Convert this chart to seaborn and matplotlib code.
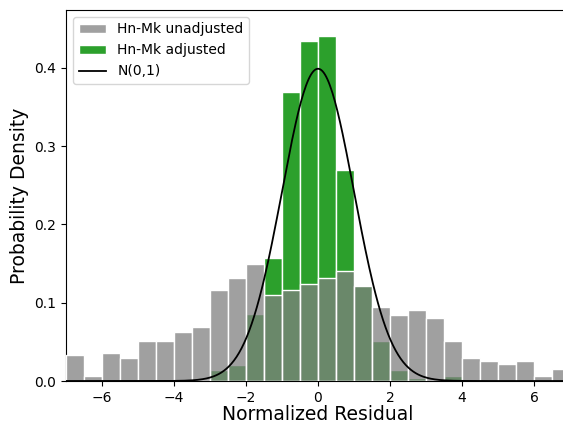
import numpy as np
import pandas as pd
import matplotlib
matplotlib.use("Agg")
import matplotlib.pyplot as plt
import seaborn as sns

# bin edges (width 0.5) and densities
bin_edges = [-7.0 + 0.5 * i for i in range(29)]
bin_centers = [e + 0.25 for e in bin_edges[:-1]]

unadjusted = [0.033, 0.007, 0.036, 0.029, 0.051, 0.051, 0.062, 0.069,
              0.116, 0.131, 0.149, 0.110, 0.116, 0.124, 0.131, 0.141,
              0.121, 0.094, 0.084, 0.091, 0.080, 0.051, 0.029, 0.026,
              0.022, 0.026, 0.007, 0.015]
adjusted = [0.0, 0.0, 0.0, 0.0, 0.002, 0.002, 0.0, 0.0,
            0.014, 0.020, 0.086, 0.157, 0.369, 0.434, 0.441, 0.270,
            0.123, 0.051, 0.014, 0.004, 0.001, 0.007, 0.0, 0.0,
            0.0, 0.0, 0.0, 0.0]

df = pd.DataFrame({"resid": bin_centers, "unadj": unadjusted, "adj": adjusted})

plt.rcParams['font.family'] = ['DejaVu Sans']

fig = plt.figure(figsize=(5.63, 4.23), dpi=100)
ax = fig.add_axes([66 / 563, 42 / 423, 504 / 563, 371 / 423])

sns.histplot(data=df, x="resid", weights="unadj", bins=bin_edges, ax=ax,
             color="gray", alpha=0.75, edgecolor="white", linewidth=1,
             label="Hn-Mk unadjusted", zorder=3)
sns.histplot(data=df, x="resid", weights="adj", bins=bin_edges, ax=ax,
             color="tab:green", alpha=1.0, edgecolor="white", linewidth=1,
             label="Hn-Mk adjusted", zorder=2)

xs = np.linspace(-7, 7, 400)
pdf = np.exp(-xs ** 2 / 2) / np.sqrt(2 * np.pi)
sns.lineplot(x=xs, y=pdf, ax=ax, color="black", linewidth=1.3, label="N(0,1)", zorder=4)

ax.set_xlim(-7, 7)
ax.set_ylim(0, 0.474)
ax.set_xticks([-6, -4, -2, 0, 2, 4, 6])
ax.set_yticks([0.0, 0.1, 0.2, 0.3, 0.4])
ax.set_xlabel("Normalized Residual", fontsize=13.5, labelpad=0)
ax.set_ylabel("Probability Density", fontsize=13.5)
ax.tick_params(labelsize=10)

handles, labels = ax.get_legend_handles_labels()
order = [labels.index(n) for n in ["Hn-Mk unadjusted", "Hn-Mk adjusted", "N(0,1)"]]
ax.legend([handles[i] for i in order], [labels[i] for i in order],
          loc="upper left", fontsize=10)

fig.savefig("out.png", dpi=100)
